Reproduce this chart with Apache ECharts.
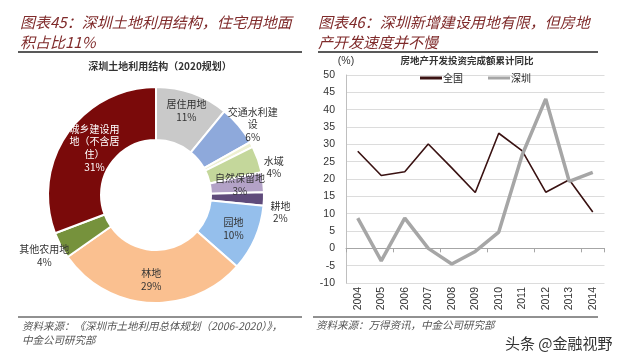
<!DOCTYPE html>
<html><head><meta charset="utf-8">
<script src="https://cdn.jsdelivr.net/npm/echarts@6/dist/echarts.min.js"></script>
<style>html,body{margin:0;padding:0;background:#fff}#c{width:640px;height:363px}</style>
</head><body><div id="c"></div>
<script>
// ---- Left: land use structure (2020 plan) ----
const landNames = ['居住用地','交通水利建设','其他','水域','自然保留地','耕地','园地','林地','其他农用地','城乡建设用地（不含居住）'];
const landLabels = ['居住用地','交通水利建\n设','','水域','自然保留地','耕地','园地','林地','其他农用地','城乡建设用\n地（不含居\n住）'];
const landValues = [11, 6, 0.8, 4, 3, 2, 10, 29, 4, 31];
const landColors = ['#C9C9C9','#8EA9DB','#EEF0D2','#C4D79B','#B3A2C7','#5F4B7B','#95BFEC','#FAC090','#76923C','#7A0A0A'];

// ---- Right: real-estate investment YoY ----
const years = ['2004','2005','2006','2007','2008','2009','2010','2011','2012','2013','2014'];
const national = [28.0, 21.0, 22.1, 30.1, 23.2, 16.1, 33.2, 28.1, 16.2, 19.8, 10.5];
const shenzhen = [8.7, -3.6, 8.7, 0.0, -4.5, -0.9, 4.7, 27.0, 43.1, 19.3, 21.9];
const yTicks = {min: -10, max: 50, interval: 5};

const chart = echarts.init(document.getElementById('c'), null, {renderer: 'canvas'});
const cjk = '"Noto Sans CJK SC", "Noto Sans", sans-serif';
const latin = '"Liberation Sans", Arial, sans-serif';
const titleColor = '#7F2A2A';

const pieData = landValues.map((v, i) => ({
  name: landNames[i], value: v,
  itemStyle: {color: landColors[i]},
  label: {show: i !== 2, color: i === 9 ? '#fff' : '#333'}
}));

const offsets = {1: [32, -16], 3: [38, 0], 5: [40, 14], 8: [-37, 21], 9: [8, 1], 0: [2, -5]};

chart.setOption({
  animation: false,
  textStyle: {fontFamily: cjk},
  title: [
    {text: '图表45：深圳土地利用结构，住宅用地面\n积占比11%', left: 20, top: 12, padding: 0,
     textStyle: {fontSize: 15, lineHeight: 20, color: titleColor, fontStyle: 'italic', fontWeight: 'normal', fontFamily: cjk}},
    {text: '图表46：深圳新增建设用地有限，但房地\n产开发速度并不慢', left: 318, top: 12, padding: 0,
     textStyle: {fontSize: 15, lineHeight: 20, color: titleColor, fontStyle: 'italic', fontWeight: 'normal', fontFamily: cjk}},
    {text: '深圳土地利用结构（2020规划）', left: 160, top: 61, textAlign: 'center', padding: 0,
     textStyle: {fontSize: 10, color: '#333', fontWeight: 'bold', fontFamily: cjk}},
    {text: '房地产开发投资完成额累计同比', left: 467, top: 56, textAlign: 'center', padding: 0,
     textStyle: {fontSize: 9.5, color: '#333', fontWeight: 'bold', fontFamily: cjk}},
    {text: '资料来源：《深圳市土地利用总体规划（2006-2020）》，\n中金公司研究部', left: 22, top: 319, padding: 0,
     textStyle: {fontSize: 10.5, lineHeight: 14, color: '#555', fontStyle: 'italic', fontWeight: 'normal', fontFamily: cjk}},
    {text: '资料来源：万得资讯，中金公司研究部', left: 316, top: 320, padding: 0,
     textStyle: {fontSize: 10.5, color: '#555', fontStyle: 'italic', fontWeight: 'normal', fontFamily: cjk}},
    {text: '头条 @金融视野', left: 505, top: 336, padding: 0,
     textStyle: {fontSize: 15, color: '#333', fontWeight: 'normal', fontFamily: cjk}}
  ],
  graphic: [
    {type: 'line', shape: {x1: 18, y1: 52, x2: 302, y2: 52}, style: {stroke: '#222', lineWidth: 1.5}},
    {type: 'line', shape: {x1: 318, y1: 52, x2: 598, y2: 52}, style: {stroke: '#222', lineWidth: 1.5}},
    {type: 'line', shape: {x1: 18, y1: 317, x2: 302, y2: 317}, style: {stroke: '#222', lineWidth: 1}},
    {type: 'line', shape: {x1: 313, y1: 317, x2: 598, y2: 317}, style: {stroke: '#222', lineWidth: 1}}
  ],
  legend: {
    data: ['全国', '深圳'], left: 420, top: 73, padding: 0, icon: 'rect', itemWidth: 22, itemHeight: 3, itemGap: 25,
    textStyle: {fontSize: 10, color: '#222', padding: [0, 0, 0, -4]}
  },
  grid: {left: 346, right: 35.5, top: 75, bottom: 80},
  xAxis: [
    {type: 'category', data: years, position: 'bottom', axisLine: {show: false, onZero: false},
     axisTick: {show: false}, axisLabel: {rotate: 90, fontSize: 10.5, color: '#333', margin: 4, fontFamily: latin}},
    {type: 'category', data: years, position: 'bottom', axisLine: {show: true, onZero: true, lineStyle: {color: '#A6A6A6', width: 1}},
     axisTick: {show: true, length: 4, lineStyle: {color: '#A6A6A6'}}, axisLabel: {show: false}, splitLine: {show: false}}
  ],
  yAxis: {
    type: 'value', min: yTicks.min, max: yTicks.max, interval: yTicks.interval,
    name: '(%)', nameLocation: 'end', nameGap: 8, nameTextStyle: {fontSize: 10.5, color: '#333', align: 'center', fontFamily: latin},
    axisLine: {show: true, lineStyle: {color: '#BFBFBF'}}, axisTick: {show: false},
    axisLabel: {fontSize: 10.5, color: '#333', margin: 11, fontFamily: latin},
    splitLine: {lineStyle: {color: '#DCDCDC'}}
  },
  series: [
    {type: 'pie', center: [156, 195], radius: [55, 108], startAngle: 90, clockwise: true,
     avoidLabelOverlap: false,
     itemStyle: {borderColor: '#fff', borderWidth: 2},
     label: {position: 'inside', fontSize: 10, lineHeight: 12.7, fontFamily: cjk, overflow: 'none',
       formatter: p => landLabels[p.dataIndex] + '\n' + p.value + '%'},
     labelLine: {show: false},
     labelLayout: p => { const o = offsets[p.dataIndex]; return o ? {dx: o[0], dy: o[1]} : {}; },
     data: pieData},
    {type: 'line', name: '全国', xAxisIndex: 0, data: national, symbol: 'none',
     lineStyle: {color: '#3A1212', width: 1.6}, itemStyle: {color: '#3A1212'}},
    {type: 'line', name: '深圳', xAxisIndex: 0, data: shenzhen, symbol: 'none',
     lineStyle: {color: '#A6A6A6', width: 3.5}, itemStyle: {color: '#A6A6A6'}}
  ]
});
</script></body></html>
